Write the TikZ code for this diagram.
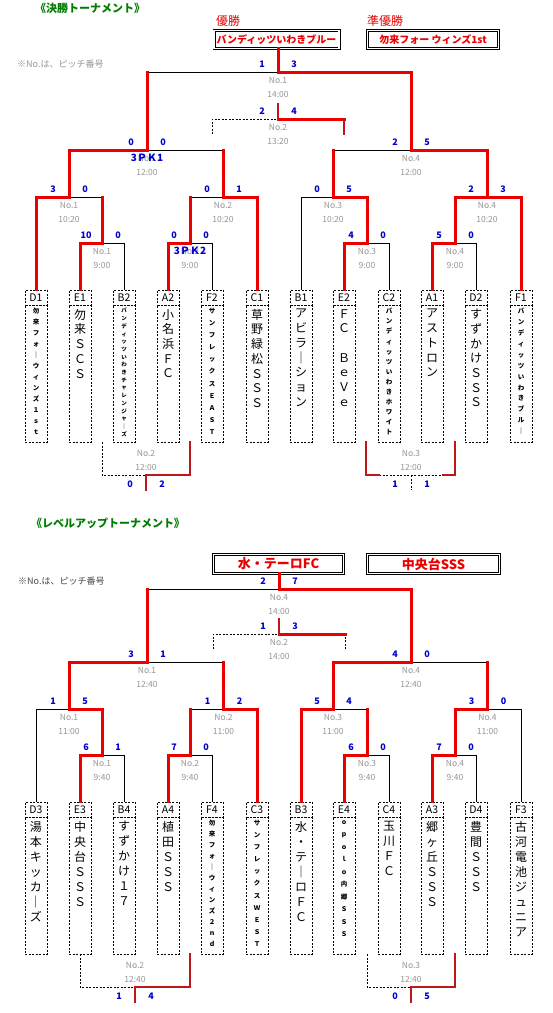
\documentclass[tikz,border=0pt]{standalone}
\usepackage{fontspec}
\setmainfont{Noto Sans CJK JP}
\definecolor{myred}{RGB}{235,0,0}
\definecolor{mydred}{RGB}{190,25,25}
\definecolor{mygray}{RGB}{150,150,150}
\definecolor{mydgray}{RGB}{70,70,70}
\definecolor{myblue}{RGB}{0,0,205}
\definecolor{mygreen}{RGB}{0,125,0}
\newcommand\team[7]{%
 \node[lab] (#1) at (#2,#3+7.5) {#4};
 \node[nbox] (#1n) at (#2,#3+15) {};
 \node[vt,font=\fontsize{#5}{#6}\selectfont] (#1t) at (#2,#3+19) {#7};}
\newcommand\steam[7]{%
 \node[lab] (#1) at (#2,#3+7.5) {#4};
 \node[nbox] (#1n) at (#2,#3+15) {};
 \node[vt,font=\bfseries\fontsize{#5}{#6}\selectfont] (#1t) at (#2,#3+18) {#7};}
\newcommand\lk[4]{\draw[#2] (#3 |- #4) -- (#4); \draw[#1] (#3) -- (#3 |- #4);}
\newcommand\lr[2]{\draw[rd] (#1) |- (#2);}
\newcommand\lb[2]{\draw[bl] (#1) |- (#2);}
\newcommand\sco[3]{\node[scs] (#1sa) at ([shift={(-16pt,8pt)}]#1) {#2};
 \node[scs] (#1sb) at ([shift={(16pt,8pt)}]#1) {#3};}
\newcommand\scu[3]{\node[scs] (#1sa) at ([shift={(-16pt,-9pt)}]#1) {#2};
 \node[scs] (#1sb) at ([shift={(16pt,-9pt)}]#1) {#3};}
\newcommand\mtx[3]{\node[gt] (#1na) at ([yshift=-8pt]#1) {#2};
 \node[gt] (#1nb) at ([yshift=-22pt]#1) {#3};}
\newcommand\mtu[3]{\node[gt] (#1na) at ([yshift=22pt]#1) {#2};
 \node[gt] (#1nb) at ([yshift=8pt]#1) {#3};}
\begin{document}
\begin{tikzpicture}[x=1pt,y=-1pt,
 bl/.style={line width=0.8pt,black},
 rd/.style={line width=3pt,myred,line cap=rect},
 dr/.style={line width=2.2pt,mydred,line cap=rect},
 ds/.style={line width=0.8pt,black,dash pattern=on 2pt off 1.5pt},
 gt/.style={text=mygray,inner sep=0,font=\fontsize{8.5}{9}\selectfont},
 scs/.style={text=myblue,inner sep=0,font=\bfseries\fontsize{9}{9}\selectfont},
 pk/.style={text=myblue,inner sep=0,font=\bfseries\fontsize{10}{10}\selectfont},
 lab/.style={draw,line width=0.8pt,dash pattern=on 2pt off 1.5pt,minimum width=22pt,minimum height=15pt,inner sep=0,font=\fontsize{10.5}{10.5}\selectfont},
 nbox/.style={draw,line width=0.8pt,dash pattern=on 2pt off 1.5pt,minimum width=22pt,minimum height=137pt,inner sep=0,anchor=north},
 vt/.style={anchor=north,inner sep=0,align=center},
 wbox/.style={draw,double,double distance=1.6pt,line width=0.7pt,minimum height=18pt,inner sep=0,text=myred,font=\bfseries\fontsize{10}{10}\selectfont},
 ttl/.style={text=mygreen,inner sep=0,font=\bfseries\fontsize{11}{11}\selectfont},
]
\fill[white] (0,0) rectangle (553,1013);
\useasboundingbox (0,0) rectangle (553,1013);

%================ TOP SECTION =================
\node[ttl] (title1) at (90,8) {《決勝トーナメント》};
\node[text=myred,inner sep=0,font=\fontsize{12}{12}\selectfont] (yusho) at (228,21) {優勝};
\node[text=myred,inner sep=0,font=\fontsize{12}{12}\selectfont] (junyusho) at (385,21) {準優勝};
\node[wbox,minimum width=125pt] (tW) at (276.5,39.5) {バンディッツいわきブルー};
\node[wbox,minimum width=131pt] (tRU) at (433,39.5) {勿来フォー ウィンズ1st};
\node[anchor=west,text=mygray,inner sep=0,font=\fontsize{9}{9}\selectfont] (note1) at (17,64) {※No.は、ピッチ番号};

\coordinate (tF) at (278,72);
\coordinate (tT) at (278,119);
\coordinate (tTs) at (278,104);
\coordinate (tTl) at (212,134);
\coordinate (tTr) at (344,134);
\coordinate (tS1) at (147,150);
\coordinate (tS2) at (411,150);
\coordinate (tQ1) at (69,197);
\coordinate (tQ2) at (223,197);
\coordinate (tQ3) at (333,197);
\coordinate (tQ4) at (487,197);
\coordinate (tR1) at (102,243);
\coordinate (tR2) at (190,243);
\coordinate (tR3) at (367,243);
\coordinate (tR4) at (455,243);
\coordinate (tB2) at (146,475);
\coordinate (tB2l) at (102,442);
\coordinate (tB2r) at (190,442);
\coordinate (tB2d) at (146,490);
\coordinate (tB3) at (411,475);
\coordinate (tB3l) at (366,442);
\coordinate (tB3r) at (455,442);
\coordinate (tB3d) at (411,490);
\coordinate (tB3a) at (379,475);
\coordinate (tB3b) at (443,475);

\steam{D1}{36}{290}{D1}{6.5}{11}{勿\\来\\フ\\ォ\\｜\\ウ\\ィ\\ン\\ズ\\１\\ｓ\\ｔ}
\team{E1}{80}{290}{E1}{12}{14.7}{勿\\来\\Ｓ\\Ｃ\\Ｓ}
\steam{B2}{124}{290}{B2}{5.5}{7.7}{バ\\ン\\デ\\ィ\\ッ\\ツ\\い\\わ\\き\\チ\\ャ\\レ\\ン\\ジ\\ャ\\｜\\ズ}
\team{A2}{168}{290}{A2}{12}{14.7}{小\\名\\浜\\Ｆ\\Ｃ}
\steam{F2}{212}{290}{F2}{6.5}{12.1}{サ\\ン\\フ\\レ\\ッ\\ク\\ス\\Ｅ\\Ａ\\Ｓ\\Ｔ}
\team{C1}{257}{290}{C1}{12}{14.7}{草\\野\\緑\\松\\Ｓ\\Ｓ\\Ｓ}
\team{B1}{301}{290}{B1}{12}{14.7}{ア\\ビ\\ラ\\｜\\シ\\ョ\\ン}
\team{E2}{344}{290}{E2}{12}{14.7}{Ｆ\\Ｃ\\~\\Ｂ\\ｅ\\Ｖ\\ｅ}
\steam{C2}{389}{290}{C2}{6.5}{10.1}{バ\\ン\\デ\\ィ\\ッ\\ツ\\い\\わ\\き\\ホ\\ワ\\イ\\ト}
\team{A1}{432}{290}{A1}{12}{14.7}{ア\\ス\\ト\\ロ\\ン}
\team{D2}{476}{290}{D2}{12}{14.7}{す\\ず\\か\\け\\Ｓ\\Ｓ\\Ｓ}
\steam{F1}{521}{290}{F1}{6.5}{10.9}{バ\\ン\\デ\\ィ\\ッ\\ツ\\い\\わ\\き\\ブ\\ル\\｜}

% black / dashed lines first
\draw[ds] (tTl) |- (tT);
\draw[ds] (tB2l) |- (tB2);
\draw[ds] (tB3a) -- (tB3b);
\draw[ds] (tB3) -- (tB3d);
\lb{B2.north}{tR1}
\lb{F2.north}{tR2}
\lb{B1.north}{tQ3}
\lb{C2.north}{tR3}
\lb{D2.north}{tR4}
\lk{rd}{bl}{tR1}{tQ1}
\lk{rd}{bl}{tR2}{tQ2}
\lk{rd}{bl}{tQ2}{tS1}
\lk{rd}{bl}{tQ3}{tS2}
\lk{rd}{bl}{tS1}{tF}
% red lines
\lr{D1.north}{tQ1}
\lr{E1.north}{tR1}
\lr{A2.north}{tR2}
\lr{C1.north}{tQ2}
\lr{E2.north}{tR3}
\lr{A1.north}{tR4}
\lr{F1.north}{tQ4}
\lr{tR3}{tQ3}
\lr{tR4}{tQ4}
\lr{tQ1}{tS1}
\lr{tQ4}{tS2}
\lr{tS2}{tF}
\draw[rd] (tW.south -| tF) -- (tF);
\draw[rd] (tTr |- tT) -- (tT);
\draw[dr] (tTr) -- (tTr |- tT);
\draw[dr] (tTs) -- (tT);
\draw[dr] (tB2r) |- (tB2);
\draw[dr] (tB2) -- (tB2d);
\draw[dr] (tB3l) |- (tB3a);
\draw[dr] (tB3r) |- (tB3b);

% match texts
\mtx{tF}{No.1}{14:00}
\mtx{tT}{No.2}{13:20}
\mtx{tS1}{No.1}{12:00}
\mtx{tS2}{No.4}{12:00}
\mtx{tQ1}{No.1}{10:20}
\mtx{tQ2}{No.2}{10:20}
\mtx{tQ3}{No.3}{10:20}
\mtx{tQ4}{No.4}{10:20}
\mtx{tR1}{No.1}{9:00}
\mtx{tR2}{No.2}{9:00}
\mtx{tR3}{No.3}{9:00}
\mtx{tR4}{No.4}{9:00}
\mtu{tB2}{No.2}{12:00}
\mtu{tB3}{No.3}{12:00}
\node[pk] (pk1) at ([yshift=-8pt]tS1) {3ＰＫ1};
\node[pk] (pk2) at ([yshift=-8pt]tR2) {3ＰＫ2};
% scores
\sco{tF}{1}{3}
\sco{tT}{2}{4}
\sco{tS1}{0}{0}
\sco{tS2}{2}{5}
\sco{tQ1}{3}{0}
\sco{tQ2}{0}{1}
\sco{tQ3}{0}{5}
\sco{tQ4}{2}{3}
\sco{tR1}{10}{0}
\sco{tR2}{0}{0}
\sco{tR3}{4}{0}
\sco{tR4}{5}{0}
\scu{tB2}{0}{2}
\scu{tB3}{1}{1}

%================ BOTTOM SECTION =================
\node[ttl] (title2) at (108,523) {《レベルアップトーナメント》};
\node[wbox,minimum width=130pt,minimum height=19pt,font=\bfseries\fontsize{13}{13}\selectfont] (bW) at (278.5,564) {水・テーロFC};
\node[wbox,minimum width=132pt,minimum height=19pt,font=\bfseries\fontsize{13}{13}\selectfont] (bRU) at (433.5,564) {中央台SSS};
\node[anchor=west,text=mydgray,inner sep=0,font=\fontsize{9}{9}\selectfont] (note2) at (18,581) {※No.は、ピッチ番号};

\coordinate (bF) at (279,589);
\coordinate (bT) at (279,634);
\coordinate (bTs) at (279,619);
\coordinate (bTl) at (213,649);
\coordinate (bTr) at (345,649);
\coordinate (bS1) at (147,662);
\coordinate (bS2) at (411,662);
\coordinate (bQ1) at (69,709);
\coordinate (bQ2) at (223.5,709);
\coordinate (bQ3) at (333,709);
\coordinate (bQ4) at (487.5,709);
\coordinate (bR1) at (102,755);
\coordinate (bR2) at (190,755);
\coordinate (bR3) at (367,755);
\coordinate (bR4) at (455,755);
\coordinate (bB2) at (135,987);
\coordinate (bB2l) at (80,954);
\coordinate (bB2r) at (190,954);
\coordinate (bB2d) at (135,1002);
\coordinate (bB3) at (411,987);
\coordinate (bB3l) at (367,954);
\coordinate (bB3r) at (455,954);
\coordinate (bB3d) at (411,1002);

\team{D3}{36}{802}{D3}{12}{15}{湯\\本\\キ\\ッ\\カ\\｜\\ズ}
\team{E3}{80}{802}{E3}{12}{15}{中\\央\\台\\Ｓ\\Ｓ\\Ｓ}
\team{B4}{124}{802}{B4}{12}{15}{す\\ず\\か\\け\\１\\７}
\team{A4}{168}{802}{A4}{12}{15}{植\\田\\Ｓ\\Ｓ\\Ｓ}
\steam{F4}{212}{802}{F4}{6.5}{11}{勿\\来\\フ\\ォ\\｜\\ウ\\ィ\\ン\\ズ\\２\\ｎ\\ｄ}
\steam{C3}{257}{802}{C3}{6.5}{12.1}{サ\\ン\\フ\\レ\\ッ\\ク\\ス\\Ｗ\\Ｅ\\Ｓ\\Ｔ}
\team{B3}{301}{802}{B3}{12}{15}{水\\・\\テ\\｜\\ロ\\Ｆ\\Ｃ}
\steam{E4}{344}{802}{E4}{6.5}{12.5}{ｏ\\ｐ\\ｏ\\ｌ\\ｏ\\内\\郷\\Ｓ\\Ｓ\\Ｓ}
\team{C4}{389}{802}{C4}{12}{15}{玉\\川\\Ｆ\\Ｃ}
\team{A3}{432}{802}{A3}{12}{15}{郷\\ヶ\\丘\\Ｓ\\Ｓ\\Ｓ}
\team{D4}{476}{802}{D4}{12}{15}{豊\\間\\Ｓ\\Ｓ\\Ｓ}
\team{F3}{521}{802}{F3}{12}{15}{古\\河\\電\\池\\ジ\\ュ\\ニ\\ア}

% black / dashed
\draw[ds] (bTl) |- (bT);
\draw[ds] (bTr) -- (bTr |- bT);
\draw[ds] (bB2l) |- (bB2);
\draw[ds] (bB3l) |- (bB3);
\lb{D3.north}{bQ1}
\lb{B4.north}{bR1}
\lb{F4.north}{bR2}
\lb{C4.north}{bR3}
\lb{D4.north}{bR4}
\lb{F3.north}{bQ4}
\lk{rd}{bl}{bR2}{bQ2}
\lk{rd}{bl}{bR3}{bQ3}
\lk{rd}{bl}{bQ2}{bS1}
\lk{rd}{bl}{bQ4}{bS2}
\lk{rd}{bl}{bS1}{bF}
% red
\lr{E3.north}{bR1}
\lr{A4.north}{bR2}
\lr{C3.north}{bQ2}
\lr{B3.north}{bQ3}
\lr{E4.north}{bR3}
\lr{A3.north}{bR4}
\lr{bR1}{bQ1}
\lr{bR4}{bQ4}
\lr{bQ1}{bS1}
\lr{bQ3}{bS2}
\lr{bS2}{bF}
\draw[rd] (bW.south -| bF) -- (bF);
\draw[rd] (bTr |- bT) -- (bT);
\draw[dr] (bTs) -- (bT);
\draw[dr] (bB2r) |- (bB2);
\draw[dr] (bB2) -- (bB2d);
\draw[dr] (bB3r) |- (bB3);
\draw[dr] (bB3) -- (bB3d);

\mtx{bF}{No.4}{14:00}
\mtx{bT}{No.2}{14:00}
\mtx{bS1}{No.1}{12:40}
\mtx{bS2}{No.4}{12:40}
\mtx{bQ1}{No.1}{11:00}
\mtx{bQ2}{No.2}{11:00}
\mtx{bQ3}{No.3}{11:00}
\mtx{bQ4}{No.4}{11:00}
\mtx{bR1}{No.1}{9:40}
\mtx{bR2}{No.2}{9:40}
\mtx{bR3}{No.3}{9:40}
\mtx{bR4}{No.4}{9:40}
\mtu{bB2}{No.2}{12:40}
\mtu{bB3}{No.3}{12:40}
\sco{bF}{2}{7}
\sco{bT}{1}{3}
\sco{bS1}{3}{1}
\sco{bS2}{4}{0}
\sco{bQ1}{1}{5}
\sco{bQ2}{1}{2}
\sco{bQ3}{5}{4}
\sco{bQ4}{3}{0}
\sco{bR1}{6}{1}
\sco{bR2}{7}{0}
\sco{bR3}{6}{0}
\sco{bR4}{7}{0}
\scu{bB2}{1}{4}
\scu{bB3}{0}{5}
\end{tikzpicture}
\end{document}
